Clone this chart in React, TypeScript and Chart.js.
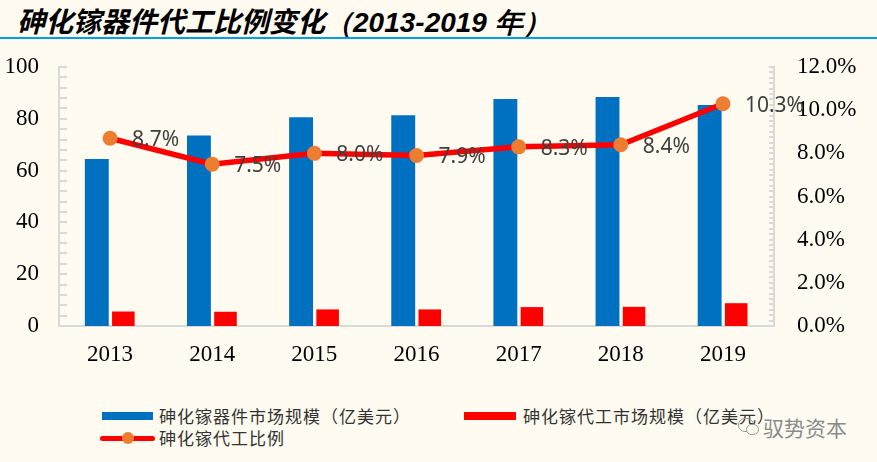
import React, { useEffect, useRef } from 'react';
import { Chart, registerables } from 'chart.js';

Chart.register(...registerables);

const years = ['2013', '2014', '2015', '2016', '2017', '2018', '2019'];
const deviceMarket = [64.5, 73.6, 80.6, 81.4, 87.6, 88.4, 85.3];
const foundryMarket = [5.6, 5.5, 6.4, 6.4, 7.3, 7.4, 8.8];
const foundryRatio = [8.7, 7.5, 8.0, 7.9, 8.3, 8.4, 10.3];

const seriesNames = ['砷化镓器件市场规模（亿美元）', '砷化镓代工市场规模（亿美元）', '砷化镓代工比例'];

const BG = '#FFFBF0';
const AXIS = '#D9D9D9';
const BLUE = '#0070C0';
const RED = '#FF0000';
const ORANGE = '#ED7D31';

const minorTicks = {
  id: 'minorTicks',
  beforeDatasetsDraw(chart: any) {
    const { ctx, chartArea } = chart;
    const y = chart.scales.y;
    const y1 = chart.scales.y1;
    ctx.save();
    ctx.strokeStyle = AXIS;
    ctx.lineWidth = 2;
    ctx.beginPath();
    for (let v = 0; v <= 100; v += 4) {
      const p = Math.round(y.getPixelForValue(v));
      ctx.moveTo(chartArea.left, p);
      ctx.lineTo(chartArea.left + 8, p);
    }
    for (let v = 0; v <= 12.001; v += 0.25) {
      const p = Math.round(y1.getPixelForValue(v));
      ctx.moveTo(chartArea.right - 5, p);
      ctx.lineTo(chartArea.right, p);
    }
    ctx.stroke();
    ctx.restore();
  },
};

const ratioLabels = {
  id: 'ratioLabels',
  afterDatasetsDraw(chart: any) {
    const { ctx } = chart;
    const meta = chart.getDatasetMeta(2);
    ctx.save();
    ctx.font = '21px "Noto Sans"';
    ctx.fillStyle = '#404040';
    ctx.textAlign = 'left';
    ctx.textBaseline = 'middle';
    meta.data.forEach((pt: any, i: number) => {
      ctx.fillText(foundryRatio[i].toFixed(1) + '%', pt.x + 22, pt.y + 2);
    });
    ctx.restore();
  },
};

const GaAsChart: React.FC = () => {
  const chartRef = useRef<HTMLCanvasElement | null>(null);

  useEffect(() => {
    if (!chartRef.current) return;
    const tickFont = { family: '"Liberation Serif", serif', size: 23 };
    const chart = new Chart(chartRef.current, {
      type: 'bar',
      data: {
        labels: years,
        datasets: [
          {
            type: 'bar',
            label: seriesNames[0],
            data: deviceMarket,
            backgroundColor: BLUE,
            yAxisID: 'y',
            order: 2,
            categoryPercentage: 0.52,
            barPercentage: 0.9,
          },
          {
            type: 'bar',
            label: seriesNames[1],
            data: foundryMarket,
            backgroundColor: RED,
            yAxisID: 'y',
            order: 2,
            categoryPercentage: 0.52,
            barPercentage: 0.85,
          },
          {
            type: 'line',
            label: seriesNames[2],
            data: foundryRatio,
            borderColor: RED,
            borderWidth: 5.5,
            pointRadius: 7.5,
            pointBackgroundColor: ORANGE,
            pointBorderWidth: 0,
            yAxisID: 'y1',
            order: 1,
            tension: 0,
          } as any,
        ],
      },
      options: {
        animation: false,
        responsive: true,
        maintainAspectRatio: false,
        layout: { padding: { top: 22, left: 0, right: 0, bottom: 0 } },
        plugins: {
          legend: { display: false },
          tooltip: { enabled: false },
        },
        scales: {
          x: {
            grid: { display: false, drawTicks: false },
            border: { display: true, color: AXIS, width: 2 },
            ticks: { font: tickFont, color: '#000', padding: 15, maxRotation: 0 },
            afterFit: (s: any) => {
              s.height = 54;
              s.paddingLeft = 0;
              s.paddingRight = 0;
            },
          },
          y: {
            position: 'left',
            min: 0,
            max: 100,
            grid: { display: false, drawTicks: false },
            border: { display: true, color: AXIS, width: 2 },
            ticks: { stepSize: 20, font: tickFont, color: '#000', padding: 20 },
            afterFit: (s: any) => {
              s.width = 59;
              s.paddingTop = 0;
              s.paddingBottom = 0;
            },
          },
          y1: {
            position: 'right',
            min: 0,
            max: 12,
            grid: { display: false, drawTicks: false },
            border: { display: true, color: AXIS, width: 2 },
            ticks: {
              stepSize: 2,
              font: tickFont,
              color: '#000',
              padding: 23,
              callback: (v: any) => Number(v).toFixed(1) + '%',
            },
            afterFit: (s: any) => {
              s.width = 103;
              s.paddingTop = 0;
              s.paddingBottom = 0;
            },
          },
        },
      },
      plugins: [minorTicks, ratioLabels],
    });
    return () => chart.destroy();
  }, []);

  return <canvas ref={chartRef} />;
};

const legendText: React.CSSProperties = {
  position: 'absolute',
  fontFamily: '"Noto Sans CJK SC", sans-serif',
  fontSize: 17,
  letterSpacing: 1,
  color: '#333',
  lineHeight: '22px',
  whiteSpace: 'nowrap',
};

const App: React.FC = () => {
  return (
    <div
      style={{
        position: 'absolute',
        left: 0,
        top: 0,
        width: 877,
        height: 462,
        background: BG,
        overflow: 'hidden',
      }}
    >
      <div
        style={{
          position: 'absolute',
          left: 17,
          top: 5,
          height: 30,
          lineHeight: '30px',
          fontFamily: '"Noto Sans CJK SC", sans-serif',
          fontWeight: 700,
          fontStyle: 'italic',
          fontSize: 28,
          color: '#000',
          whiteSpace: 'nowrap',
        }}
      >
        砷化镓器件代工比例变化
        <span style={{ fontFamily: '"Liberation Sans", Arial, sans-serif' }}>（2013-2019 年）</span>
      </div>
      <div style={{ position: 'absolute', left: 0, top: 37, width: 877, height: 2, background: '#00A0E9' }} />

      <div style={{ position: 'absolute', left: 0, top: 45, width: 877, height: 335 }}>
        <GaAsChart />
      </div>

      {/* legend */}
      <div style={{ position: 'absolute', left: 102, top: 412, width: 51, height: 8, background: BLUE }} />
      <div style={{ ...legendText, left: 159, top: 405 }}>{seriesNames[0]}</div>
      <div style={{ position: 'absolute', left: 464, top: 412, width: 52, height: 8, background: RED }} />
      <div style={{ ...legendText, left: 523, top: 405 }}>{seriesNames[1]}</div>
      <div
        style={{
          position: 'absolute',
          left: 100,
          top: 435.5,
          width: 55,
          height: 5,
          borderRadius: 3,
          background: RED,
        }}
      />
      <div
        style={{
          position: 'absolute',
          left: 122,
          top: 432,
          width: 12,
          height: 12,
          borderRadius: 6,
          background: ORANGE,
        }}
      />
      <div style={{ ...legendText, left: 159, top: 427 }}>{seriesNames[2]}</div>

      {/* watermark */}
      <div
        style={{
          position: 'absolute',
          left: 738,
          top: 418,
          width: 14,
          height: 12,
          borderRadius: 7,
          border: '1.5px solid #999',
        }}
      />
      <div
        style={{
          position: 'absolute',
          left: 746,
          top: 424,
          width: 11,
          height: 9,
          borderRadius: 6,
          border: '1.5px solid #999',
          background: BG,
        }}
      />
      <div
        style={{
          position: 'absolute',
          left: 763,
          top: 414,
          fontFamily: '"Noto Sans CJK SC", sans-serif',
          fontSize: 21,
          lineHeight: '26px',
          color: '#8a8a8a',
          textShadow: '0 0 2px #fff',
          whiteSpace: 'nowrap',
        }}
      >
        驭势资本
      </div>
    </div>
  );
};

export default App;
